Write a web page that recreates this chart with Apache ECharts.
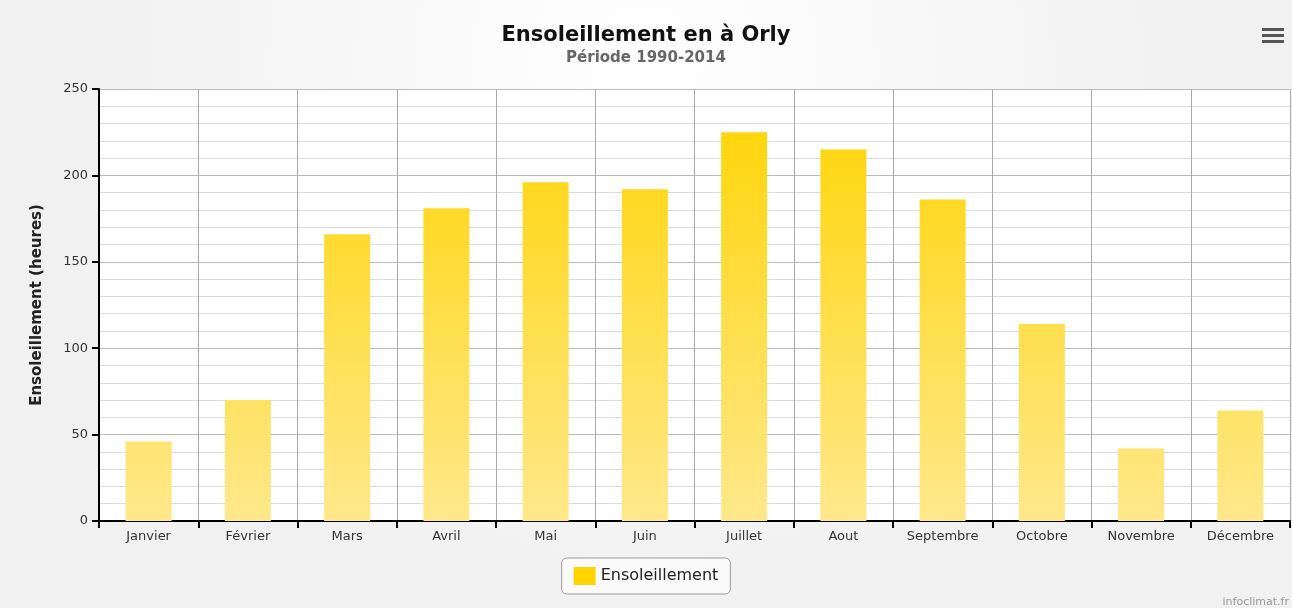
<!DOCTYPE html>
<html>
<head>
<meta charset="utf-8">
<script src="https://cdn.jsdelivr.net/npm/echarts@6/dist/echarts.min.js"></script>
<style>
  html, body { margin: 0; padding: 0; }
  #chart { width: 1292px; height: 608px; }
</style>
</head>
<body>
<div id="chart"></div>
<script>
// mois
var mois = ['Janvier', 'Février', 'Mars', 'Avril', 'Mai', 'Juin', 'Juillet', 'Aout', 'Septembre', 'Octobre', 'Novembre', 'Décembre'];
// heures d'ensoleillement
var ensoleillement = [46, 70, 166, 181, 196, 192, 225, 215, 186, 114, 42, 64];

var myChart = echarts.init(document.getElementById('chart'));

var option = {
    backgroundColor: {
        type: 'radial', x: 0.5, y: 0.1, r: 0.9,
        colorStops: [{offset: 0, color: '#ffffff'}, {offset: 1, color: '#f1f1f1'}]
    },
    animation: false,
    textStyle: {fontFamily: 'DejaVu Sans'},
    title: {
        text: 'Ensoleillement en à Orly',
        subtext: 'Période 1990-2014',
        left: 'center',
        top: 20,
        itemGap: 5,
        textStyle: {fontSize: 21, fontWeight: 'bold', color: '#111', fontFamily: 'DejaVu Sans'},
        subtextStyle: {fontSize: 15, fontWeight: 'bold', color: '#666', fontFamily: 'DejaVu Sans'}
    },
    legend: {
        bottom: 14,
        left: 'center',
        data: ['Ensoleillement'],
        icon: 'rect',
        itemWidth: 22,
        itemHeight: 18,
        padding: [9, 12, 9, 12],
        borderColor: '#999',
        borderWidth: 1,
        borderRadius: 5,
        backgroundColor: '#fafafa',
        textStyle: {fontSize: 16, color: '#222'}
    },
    grid: {
        left: 99, right: 2, top: 89, bottom: 87,
        show: true, backgroundColor: '#ffffff', borderWidth: 0
    },
    xAxis: {
        type: 'category',
        data: mois,
        axisLine: {lineStyle: {color: '#000', width: 2}},
        axisTick: {show: true, interval: 0, length: 7, lineStyle: {color: '#000', width: 2}},
        axisLabel: {interval: 0, fontSize: 13, color: '#333', margin: 9},
        splitLine: {show: true, interval: 0, lineStyle: {color: '#aaa', width: 1}}
    },
    yAxis: {
        type: 'value',
        min: 0, max: 250, interval: 50,
        name: 'Ensoleillement (heures)',
        nameLocation: 'middle',
        nameGap: 54,
        nameTextStyle: {fontSize: 15, fontWeight: 'bold', color: '#222'},
        axisLine: {show: true, lineStyle: {color: '#000', width: 2}},
        axisTick: {show: true, length: 7, lineStyle: {color: '#000', width: 2}},
        axisLabel: {fontSize: 13, color: '#333', margin: 11},
        splitLine: {lineStyle: {color: '#bbb', width: 1}},
        minorTick: {show: false, splitNumber: 5},
        minorSplitLine: {show: true, lineStyle: {color: '#dcdcdc', width: 1}}
    },
    series: [{
        name: 'Ensoleillement',
        type: 'bar',
        data: ensoleillement,
        barWidth: 46,
        itemStyle: {
            color: {
                type: 'linear', x: 0, y: 89, x2: 0, y2: 521, global: true,
                colorStops: [{offset: 0, color: '#ffd400'}, {offset: 1, color: '#ffe88c'}]
            }
        }
    }],
    graphic: [
        {type: 'text', right: 3, bottom: 0, style: {text: 'infoclimat.fr', fontSize: 11, fill: '#999', fontFamily: 'DejaVu Sans'}},
        {type: 'group', right: 8, top: 28, children: [
            {type: 'rect', shape: {x: 0, y: 0, width: 22, height: 3}, style: {fill: '#555'}},
            {type: 'rect', shape: {x: 0, y: 6, width: 22, height: 3}, style: {fill: '#555'}},
            {type: 'rect', shape: {x: 0, y: 12, width: 22, height: 3}, style: {fill: '#555'}}
        ]}
    ]
};

myChart.setOption(option);
</script>
</body>
</html>
